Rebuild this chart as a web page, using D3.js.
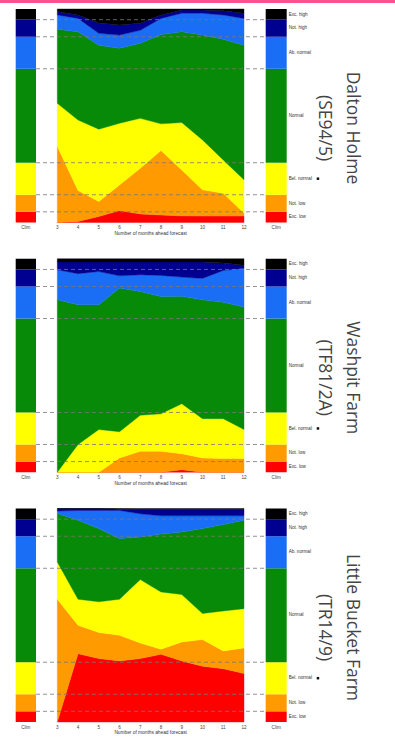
<!DOCTYPE html>
<html>
<head>
<meta charset="utf-8">
<script src="https://cdn.jsdelivr.net/npm/d3@7"></script>
<style>
  html, body { margin: 0; padding: 0; background: #fff; }
  svg { display: block; }
</style>
</head>
<body>
<svg id="chart" width="395" height="742"></svg>
<script>
// ---- data ----
const months = [3, 4, 5, 6, 7, 8, 9, 10, 11, 12];
const categories = ["Exc. low", "Not. low", "Bel. normal", "Normal", "Ab. normal", "Not. high", "Exc. high"];
const climatology = [5, 8, 15, 44, 15, 8, 5];
const siteNames = ["Dalton Holme", "Washpit Farm", "Little Bucket Farm"];
const gridRefs = ["(SE94/5)", "(TF81/2A)", "(TR14/9)"];
const xLabel = "Number of months ahead forecast";
const climLabel = "Clim";

// probability (%) of each category per lead month, rows follow `categories`
const daltonHolme = [
  [0, 0.5, 2.8, 5.6, 4, 3.5, 3.1, 3, 3, 3],
  [35.6, 14.5, 7, 12, 21.4, 30.2, 21.5, 12.3, 10.7, 1.4],
  [20.2, 33, 33.9, 28.9, 23.4, 12.5, 22.2, 23.4, 15.6, 15.6],
  [34.7, 41.4, 39.3, 35.1, 35.2, 41.8, 42.6, 49.1, 56.5, 63],
  [6.7, 6.2, 5.6, 6.2, 6, 7.6, 8.6, 10.2, 11.4, 12.6],
  [1.6, 1.6, 4.9, 4.7, 3.3, 1.6, 1.5, 1.5, 2, 2.4],
  [1.2, 2.8, 6.5, 7.5, 6.7, 2.8, 0.5, 0.5, 0.8, 2]
];
const washpitFarm = [
  [0, 0, 0, 0, 0, 0, 1.2, 0, 0, 0],
  [0, 0, 0, 6.7, 9.8, 9.8, 7.5, 6.7, 6.4, 6.4],
  [0, 13, 20, 12.3, 16.9, 17.5, 23.4, 18.4, 18.7, 13.6],
  [80.8, 65.5, 58.5, 67.3, 58, 54.9, 50.3, 55.7, 54.5, 57.4],
  [14, 14.5, 15.5, 5.7, 7.8, 9.8, 9, 10, 14.9, 18.2],
  [3.7, 5.5, 4.5, 6.5, 6, 6.3, 7.1, 7.7, 3.5, 1.4],
  [1.5, 1.5, 1.5, 1.5, 1.5, 1.5, 1.5, 1.5, 2, 3]
];
const littleBucketFarm = [
  [0, 32, 29.7, 28.6, 29.7, 31.7, 28.6, 26.1, 25, 22.7],
  [57.5, 13.3, 12.2, 12, 7.3, 2.4, 8.9, 12.5, 8.3, 12],
  [17.5, 12.2, 14.4, 16.9, 29.7, 26.8, 22.2, 12.2, 18.7, 18.4],
  [22.7, 37, 34.3, 28.4, 20, 27.1, 29.3, 39.8, 40.5, 41.4],
  [1.1, 4.6, 8.5, 13.2, 10.8, 8.6, 7.6, 6, 4.1, 2.1],
  [1.2, 0.9, 0.9, 0.6, 2, 2.9, 2.9, 2.9, 2.9, 2.9],
  [0, 0, 0, 0.3, 0.5, 0.5, 0.5, 0.5, 0.5, 0.5]
];
const siteData = [daltonHolme, washpitFarm, littleBucketFarm];

// ---- styles / layout ----
const colors = ["#ff0000", "#ff9a00", "#ffff00", "#078a07", "#1a6ef5", "#000090", "#000000"];
const svg = d3.select("#chart");

svg.append("rect").attr("x", 0).attr("y", 0).attr("width", 395).attr("height", 3).attr("fill", "#ff4f8f");

const panelTop0 = 9, panelStep = 249.75, panelH = 213.5;
const chartL = 57.3, chartR = 244;
const leftBar = [15.7, 36], rightBar = [265.7, 286.7];

const x = d3.scaleLinear().domain([3, 12]).range([chartL, chartR]);

siteData.forEach((rowsByCat, i) => {
  const top = panelTop0 + i * panelStep;
  const bottom = top + panelH;
  const y = d3.scaleLinear().domain([0, 1]).range([bottom, top]);
  const g = svg.append("g");

  // build table for stack
  const table = months.map((m, j) => {
    const o = { month: m };
    categories.forEach((c, k) => { o[c] = rowsByCat[k][j]; });
    return o;
  });
  const series = d3.stack().keys(categories).offset(d3.stackOffsetExpand)(table);
  const area = d3.area()
    .x(d => x(d.data.month))
    .y0(d => y(d[0]))
    .y1(d => y(d[1]));

  g.selectAll("path.band").data(series).join("path")
    .attr("class", "band")
    .attr("d", area)
    .attr("fill", (d, k) => colors[k])
    .attr("stroke", (d, k) => colors[k])
    .attr("stroke-width", 0.4);

  // climatology bars
  const climRow = {};
  categories.forEach((c, k) => { climRow[c] = climatology[k]; });
  const climSeries = d3.stack().keys(categories).offset(d3.stackOffsetExpand)([climRow]);
  [leftBar, rightBar].forEach(bx => {
    g.selectAll(null).data(climSeries).join("rect")
      .attr("x", bx[0])
      .attr("width", bx[1] - bx[0])
      .attr("y", d => y(d[0][1]))
      .attr("height", d => y(d[0][0]) - y(d[0][1]))
      .attr("fill", (d, k) => colors[k]);
  });

  // dashed boundary lines
  const bounds = climSeries.slice(0, -1).map(s => s[0][1]);
  g.selectAll("line.dash").data(bounds).join("line")
    .attr("class", "dash")
    .attr("x1", leftBar[1]).attr("x2", rightBar[0])
    .attr("y1", d => y(d)).attr("y2", d => y(d))
    .attr("stroke", "#777")
    .attr("stroke-width", 0.8)
    .attr("stroke-dasharray", "4,3");

  // category labels on the right bar
  g.selectAll("text.cat").data(climSeries).join("text")
    .attr("class", "cat")
    .attr("x", rightBar[1] + 2)
    .attr("y", d => y((d[0][0] + d[0][1]) / 2))
    .attr("dominant-baseline", "middle")
    .attr("font-family", "Liberation Sans, Arial, sans-serif")
    .attr("font-size", 4.6)
    .attr("fill", "#333")
    .text((d, k) => categories[categories.length - 1 - k] ? d.key : d.key);
  // small marker after "Bel. normal"
  const bel = climSeries[2];
  g.append("rect")
    .attr("x", rightBar[1] + 30).attr("y", y((bel[0][0] + bel[0][1]) / 2) - 1.3)
    .attr("width", 2.5).attr("height", 2.5).attr("fill", "#111");

  // x tick labels
  const tickY = bottom + 5.5;
  g.selectAll("text.tick").data(months).join("text")
    .attr("class", "tick")
    .attr("x", d => x(d)).attr("y", tickY)
    .attr("text-anchor", "middle").attr("dominant-baseline", "middle")
    .attr("font-family", "Liberation Sans, Arial, sans-serif")
    .attr("font-size", 4.6).attr("fill", "#444")
    .text(d => d);
  [leftBar, rightBar].forEach(bx => {
    g.append("text")
      .attr("x", (bx[0] + bx[1]) / 2).attr("y", tickY)
      .attr("text-anchor", "middle").attr("dominant-baseline", "middle")
      .attr("font-family", "Liberation Sans, Arial, sans-serif")
      .attr("font-size", 4.6).attr("fill", "#444")
      .text(climLabel);
  });
  g.append("text")
    .attr("x", (chartL + chartR) / 2).attr("y", bottom + 11)
    .attr("text-anchor", "middle").attr("dominant-baseline", "middle")
    .attr("font-family", "Liberation Sans, Arial, sans-serif")
    .attr("font-size", 4.8).attr("fill", "#333")
    .text(xLabel);

  // rotated title
  const cy = top + 119;
  const t = g.append("text")
    .attr("transform", `translate(347,${cy}) rotate(90)`)
    .attr("text-anchor", "middle")
    .attr("font-family", "Open Sans, sans-serif")
    .attr("font-size", 17.5)
    .attr("fill", "#444");
  t.append("tspan").attr("x", 0).attr("y", 0).text(siteNames[i]);
  t.append("tspan").attr("x", 0).attr("y", 28).text(gridRefs[i]);
});
</script>
</body>
</html>
